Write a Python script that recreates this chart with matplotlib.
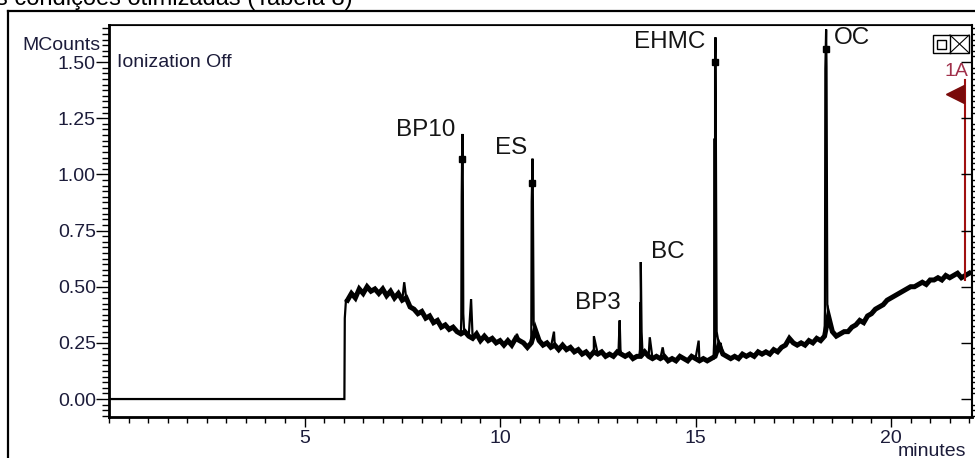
import numpy as np
import matplotlib
matplotlib.use('Agg')
import matplotlib.pyplot as plt
from matplotlib.patches import Rectangle
from matplotlib.lines import Line2D
from matplotlib.ticker import MultipleLocator

plt.rcParams['font.family'] = ['Liberation Sans', 'DejaVu Sans']

# Data

# detector off: flat trace, then the step when ionization starts
flat_t = [0.0, 6.02, 6.03, 6.06]
flat_v = [0.0, 0.0, 0.36, 0.44]

# noisy baseline sampled every 0.1 min from 6.1 min
base_start = 6.1
base_step = 0.1
base_v = [
    0.44, 0.47, 0.45, 0.49, 0.47, 0.50, 0.48, 0.49, 0.47, 0.49,
    0.46, 0.48, 0.45, 0.47, 0.44, 0.45, 0.41, 0.40, 0.38, 0.39,
    0.36, 0.37, 0.34, 0.35, 0.32, 0.33, 0.31, 0.32, 0.30, 0.29,
    0.30, 0.28, 0.27, 0.29, 0.26, 0.28, 0.26, 0.27, 0.25, 0.26,
    0.24, 0.26, 0.24, 0.27, 0.26, 0.25, 0.23, 0.25, 0.31, 0.26,
    0.24, 0.25, 0.23, 0.24, 0.22, 0.24, 0.22, 0.23, 0.21, 0.22,
    0.20, 0.21, 0.19, 0.21, 0.20, 0.21, 0.19, 0.20, 0.19, 0.21,
    0.20, 0.19, 0.20, 0.18, 0.19, 0.19, 0.21, 0.19, 0.18, 0.19,
    0.18, 0.19, 0.17, 0.18, 0.17, 0.19, 0.18, 0.17, 0.19, 0.18,
    0.17, 0.18, 0.17, 0.18, 0.19, 0.24, 0.20, 0.19, 0.18, 0.19,
    0.18, 0.20, 0.19, 0.20, 0.19, 0.21, 0.20, 0.21, 0.20, 0.22,
    0.21, 0.23, 0.24, 0.27, 0.25, 0.24, 0.25, 0.24, 0.26, 0.25,
    0.27, 0.26, 0.28, 0.37, 0.30, 0.28, 0.29, 0.30, 0.30, 0.32,
    0.33, 0.35, 0.34, 0.37, 0.38, 0.40, 0.41, 0.42, 0.44, 0.45,
    0.46, 0.47, 0.48, 0.49, 0.50, 0.50, 0.51, 0.52, 0.51, 0.53,
    0.53, 0.54, 0.53, 0.55, 0.54, 0.55, 0.56, 0.54, 0.55, 0.56,
]

# small unlabelled spikes
spike_t = [7.55, 9.26, 10.43, 11.38, 12.40, 13.83, 14.16, 15.08, 15.64]
spike_v = [0.52, 0.445, 0.29, 0.30, 0.28, 0.275, 0.23, 0.26, 0.25]

# labelled peaks
peak_names = ['BP10', 'ES', 'BP3', 'BC', 'EHMC', 'OC']
peak_t = [
    [9.00, 9.01, 9.02, 9.03, 9.04, 9.05, 9.06, 9.08],
    [10.79, 10.80, 10.81, 10.82, 10.83, 10.84, 10.86],
    [13.03, 13.05, 13.06, 13.08],
    [13.56, 13.58, 13.59, 13.60, 13.62, 13.64],
    [15.46, 15.48, 15.49, 15.50, 15.51, 15.52, 15.54],
    [18.29, 18.31, 18.32, 18.33, 18.34, 18.35, 18.37],
]
peak_v = [
    [0.30, 0.36, 0.90, 1.07, 1.18, 0.92, 0.38, 0.31],
    [0.24, 0.30, 0.88, 0.96, 1.07, 0.90, 0.33],
    [0.21, 0.30, 0.35, 0.22],
    [0.19, 0.22, 0.43, 0.61, 0.30, 0.22],
    [0.18, 0.27, 1.16, 1.50, 1.61, 1.17, 0.30],
    [0.28, 0.40, 1.47, 1.56, 1.645, 1.48, 0.42],
]
# apex markers drawn by the data system
mark_t = [9.02, 10.81, 15.50, 18.33]
mark_v = [1.07, 0.96, 1.50, 1.56]

# label anchor (x, y) in minutes / MCounts and alignment
label_x = [8.85, 10.70, 13.10, 13.85, 15.25, 18.55]
label_y = [1.197, 1.117, 0.427, 0.654, 1.588, 1.606]
label_ha = ['right', 'right', 'right', 'left', 'right', 'left']

yticks = [0.00, 0.25, 0.50, 0.75, 1.00, 1.25, 1.50]
xticks = [5, 10, 15, 20]

# Build trace

base_t = np.round(base_start + base_step * np.arange(len(base_v)), 2)
all_t = list(flat_t) + list(base_t) + spike_t
all_v = list(flat_v) + list(base_v) + spike_v
for pt, pv in zip(peak_t, peak_v):
    all_t += pt
    all_v += pv
order = np.argsort(all_t, kind='stable')
trace_t = np.array(all_t)[order]
trace_v = np.array(all_v)[order]

# Figure

fig = plt.figure(figsize=(9.75, 4.58), dpi=100)
ax = fig.add_axes([0.1118, 0.0895, 0.8851, 0.8559])

# noise band of the baseline, then the full trace on top
ax.plot(base_t, base_v, color='black', lw=3.6, solid_joinstyle='miter')
ax.plot(trace_t, trace_v, color='black', lw=1.6, solid_joinstyle='miter')
ax.plot(mark_t, mark_v, 's', color='black', ms=4)

txt_col = '#1c1c3a'
for name, lx, ly, ha in zip(peak_names, label_x, label_y, label_ha):
    ax.text(lx, ly, name, ha=ha, va='center', fontsize=17.5, color='#151515')

ax.set_xlim(0, 22.07)
ax.set_ylim(-0.08, 1.665)

ax.set_yticks(yticks)
ax.set_yticklabels(['%.2f' % v for v in yticks])
ax.yaxis.set_minor_locator(MultipleLocator(0.025))
ax.set_xticks(xticks)
ax.xaxis.set_minor_locator(MultipleLocator(0.5))

ax.tick_params(axis='y', which='major', direction='out', length=9.5, width=1.0,
               labelsize=14, pad=0, labelcolor=txt_col)
ax.tick_params(axis='y', which='minor', direction='out', length=5, width=1.0)
ax.tick_params(axis='x', which='major', direction='out', length=7.5, width=1.0,
               labelsize=14, pad=2, labelcolor=txt_col)
ax.tick_params(axis='x', which='minor', direction='out', length=4, width=1.0)

for side in ['left', 'bottom']:
    ax.spines[side].set_linewidth(2.0)
for side in ['top', 'right']:
    ax.spines[side].set_linewidth(1.2)

# right-hand axis ticks (no labels)
ax2 = ax.twinx()
ax2.set_ylim(ax.get_ylim())
ax2.set_yticks(yticks)
ax2.set_yticklabels([])
ax2.yaxis.set_minor_locator(MultipleLocator(0.025))
ax2.tick_params(axis='y', which='major', direction='in', length=8, width=1.0)
ax2.tick_params(axis='y', which='minor', direction='out', length=5, width=1.0)
ax2.spines['right'].set_linewidth(1.5)

# texts
ax.text(0.009, 0.905, 'Ionization Off', transform=ax.transAxes, fontsize=14,
        color=txt_col, ha='left', va='center')
fig.text(100 / 975, 1 - 45 / 458, 'MCounts', fontsize=14, color=txt_col,
         ha='right', va='center')
fig.text(966 / 975, 1 - 451 / 458, 'minutes', fontsize=14, color=txt_col,
         ha='right', va='center')

# red cursor on the right
ax.plot([21.89, 21.89], [1.42, 0.53], color='#a01010', lw=1.5)
ax.plot([21.64], [1.36], marker='<', color='#7a0a0a', ms=13)
ax.text(21.36, 1.46, '1A', color='#a0304a', fontsize=14, ha='left', va='center')

# window icons top right
icon = [
    Rectangle((0.955, 0.9286), 0.0417, 0.0459, fill=False, lw=1.0, ec='black'),
    Rectangle((0.9594, 0.9388), 0.0104, 0.023, fill=False, lw=1.0, ec='black'),
]
for p in icon:
    p.set_transform(ax.transAxes)
    ax.add_patch(p)
ax.add_line(Line2D([0.9745, 0.9745], [0.9286, 0.9745], transform=ax.transAxes,
                   color='black', lw=1.0))
ax.add_line(Line2D([0.9745, 0.9967], [0.9286, 0.9745], transform=ax.transAxes,
                   color='black', lw=0.8))
ax.add_line(Line2D([0.9745, 0.9967], [0.9745, 0.9286], transform=ax.transAxes,
                   color='black', lw=0.8))

# outer frame and cut-off caption
fig.add_artist(Line2D([8 / 975, 1.0], [1 - 11 / 458, 1 - 11 / 458],
                      transform=fig.transFigure, color='black', lw=1.6))
fig.add_artist(Line2D([8 / 975, 8 / 975], [0.0, 1 - 11 / 458],
                      transform=fig.transFigure, color='black', lw=1.6))
fig.text(-0.004, 1 - 5 / 458, 's condições otimizadas (Tabela 8)', fontsize=17,
         color='black', ha='left', va='baseline')

fig.savefig('out.png', dpi=100)
